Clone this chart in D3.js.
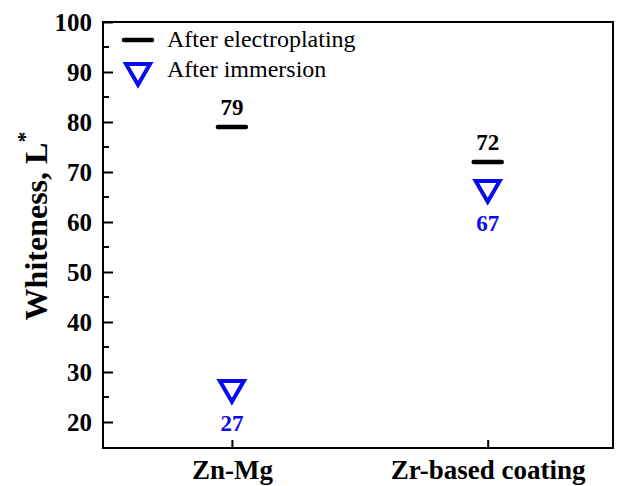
<!DOCTYPE html>
<html>
<head>
<meta charset="utf-8">
<script src="https://cdn.jsdelivr.net/npm/d3@7"></script>
<style>
  body { margin: 0; background: #fff; }
  svg { display: block; font-family: "Liberation Serif", "Times New Roman", serif; }
</style>
</head>
<body>
<svg width="618" height="486"></svg>
<script>
const categories = ["Zn-Mg", "Zr-based coating"];
const electroplating = [79, 72];
const immersion = [27, 67];
const yTicks = [20, 30, 40, 50, 60, 70, 80, 90, 100];
const yMinor = [25, 35, 45, 55, 65, 75, 85, 95];
const seriesNames = ["After electroplating", "After immersion"];

const margin = { top: 22, right: 5, bottom: 38, left: 103 };
const width = 618 - margin.left - margin.right;
const height = 486 - margin.top - margin.bottom;

const svg = d3.select("svg")
  .append("g")
  .attr("transform", `translate(${margin.left},${margin.top})`);

const x = d3.scaleLinear().domain([-0.504, 1.49]).range([0, width]);
const y = d3.scaleLinear().domain([14.8, 100]).range([height, 0]);

const blue = "#0a0af0";

// frame
svg.append("rect")
  .attr("width", width).attr("height", height)
  .attr("fill", "none").attr("stroke", "#000").attr("stroke-width", 2);

// y axis
const yAxis = svg.append("g")
  .call(d3.axisLeft(y).tickValues(yTicks).tickSizeInner(-10).tickSizeOuter(0).tickPadding(11));
yAxis.select(".domain").remove();
yAxis.selectAll(".tick line").attr("stroke-width", 2);
yAxis.selectAll(".tick text")
  .attr("font-size", 25).attr("font-weight", "bold")
  .attr("font-family", "Liberation Serif").attr("fill", "#000");

svg.append("g").selectAll("line").data(yMinor).join("line")
  .attr("x1", 0).attr("x2", 6)
  .attr("y1", d => y(d)).attr("y2", d => y(d))
  .attr("stroke", "#000").attr("stroke-width", 2);

// x axis
const xAxis = svg.append("g")
  .attr("transform", `translate(0,${height})`)
  .call(d3.axisBottom(x).tickValues([0, 1]).tickFormat(i => categories[i])
    .tickSizeInner(-8).tickSizeOuter(0).tickPadding(12));
xAxis.select(".domain").remove();
xAxis.selectAll(".tick line").attr("stroke-width", 2);
xAxis.selectAll(".tick text")
  .attr("font-size", 27).attr("font-weight", "bold")
  .attr("font-family", "Liberation Serif").attr("fill", "#000");

// y label
const yl = svg.append("text")
  .attr("transform", `translate(${47 - margin.left},${226 - margin.top}) rotate(-90)`)
  .attr("text-anchor", "middle")
  .attr("font-size", 32).attr("font-weight", "bold");
yl.append("tspan").text("Whiteness, L");
yl.append("tspan").attr("dy", -15).attr("font-size", 22).text("*");

const tri = d3.symbol().type(d3.symbolTriangle).size(250);

// electroplating dashes
svg.append("g").selectAll("line").data(electroplating).join("line")
  .attr("x1", (d, i) => x(i) - 14).attr("x2", (d, i) => x(i) + 14)
  .attr("y1", d => y(d)).attr("y2", d => y(d))
  .attr("stroke", "#000").attr("stroke-width", 4.5).attr("stroke-linecap", "round");

svg.append("g").selectAll("text").data(electroplating).join("text")
  .attr("x", (d, i) => x(i)).attr("y", d => y(d) - 12)
  .attr("text-anchor", "middle")
  .attr("font-size", 23).attr("font-weight", "bold")
  .text(d => d);

// immersion triangles
svg.append("g").selectAll("path").data(immersion).join("path")
  .attr("d", tri)
  .attr("transform", (d, i) => `translate(${x(i)},${y(d) + 1}) rotate(180)`)
  .attr("fill", "none").attr("stroke", blue).attr("stroke-width", 4);

svg.append("g").selectAll("text").data(immersion).join("text")
  .attr("x", (d, i) => x(i)).attr("y", d => y(d) + 44)
  .attr("text-anchor", "middle")
  .attr("font-size", 23).attr("font-weight", "bold")
  .attr("fill", blue)
  .text(d => d);

// legend
const legend = svg.append("g").attr("transform", `translate(${138 - margin.left},${40 - margin.top})`);
legend.append("line")
  .attr("x1", -14).attr("x2", 14)
  .attr("stroke", "#000").attr("stroke-width", 4.5).attr("stroke-linecap", "round");
legend.append("path")
  .attr("d", tri)
  .attr("transform", "translate(0,31) rotate(180)")
  .attr("fill", "none").attr("stroke", blue).attr("stroke-width", 4);
legend.selectAll("text").data(seriesNames).join("text")
  .attr("x", 29).attr("y", (d, i) => 7 + i * 30)
  .attr("font-size", 24)
  .text(d => d);
</script>
</body>
</html>
